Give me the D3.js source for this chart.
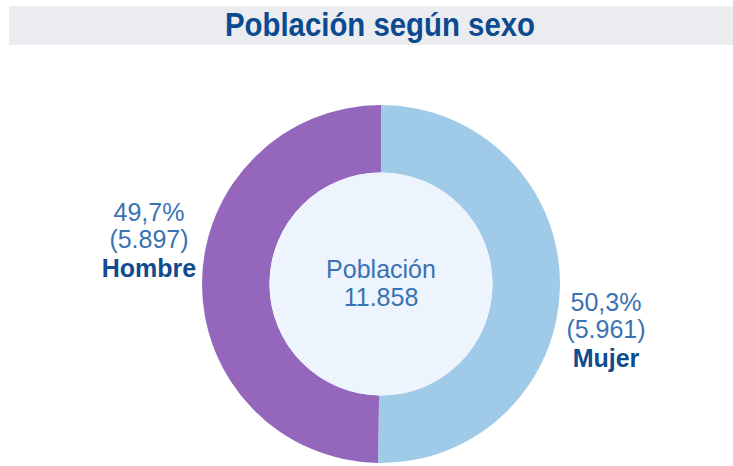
<!DOCTYPE html>
<html lang="es">
<head>
  <meta charset="utf-8">
  <title>Población según sexo</title>
  <script src="https://d3js.org/d3.v7.min.js"></script>
  <style>
    body { margin: 0; background: #fff; }
    svg { display: block; font-family: "Liberation Sans", Arial, sans-serif; }
  </style>
</head>
<body>
<script>
  var sexos = ["Mujer", "Hombre"];
  var poblacion = [5961, 5897];
  var porcentajes = ["50,3%", "49,7%"];
  var cifras = ["(5.961)", "(5.897)"];
  var total = "11.858";

  var width = 733, height = 466;
  var cx = 381, cy = 284;
  var rOuter = 179, rInner = 111.5;

  var svg = d3.select("body").append("svg")
      .attr("width", width)
      .attr("height", height);

  // barra del título
  svg.append("rect")
      .attr("x", 9).attr("y", 6)
      .attr("width", width - 9).attr("height", 39)
      .attr("fill", "#ebecef");

  svg.append("text")
      .attr("x", 380).attr("y", 36)
      .attr("text-anchor", "middle")
      .attr("font-size", 33)
      .attr("font-weight", "bold")
      .attr("fill", "#0b4a8f")
      .attr("textLength", 310)
      .attr("lengthAdjust", "spacingAndGlyphs")
      .text("Población según sexo");

  var color = d3.scaleOrdinal()
      .domain(sexos)
      .range(["#a0cbe8", "#9467bd"]);

  var pie = d3.pie().sort(null).value(function(d, i) { return poblacion[i]; });
  var arc = d3.arc().innerRadius(rInner).outerRadius(rOuter);

  var g = svg.append("g").attr("transform", "translate(" + cx + "," + cy + ")");

  g.selectAll("path")
    .data(pie(sexos))
    .enter().append("path")
      .attr("d", arc)
      .attr("fill", function(d) { return color(d.data); });

  g.append("circle")
      .attr("r", rInner)
      .attr("fill", "#edf4fd");

  // texto central
  g.append("text")
      .attr("text-anchor", "middle")
      .attr("y", -6)
      .attr("font-size", 25)
      .attr("fill", "#3a72b3")
      .text("Población");
  g.append("text")
      .attr("text-anchor", "middle")
      .attr("y", 22)
      .attr("font-size", 25)
      .attr("fill", "#3a72b3")
      .text(total);

  // etiquetas
  var labelPos = [[606, 311], [149, 221]];
  sexos.forEach(function(s, i) {
    var x = labelPos[i][0], y = labelPos[i][1];
    svg.append("text").attr("x", x).attr("y", y)
        .attr("text-anchor", "middle").attr("font-size", 25)
        .attr("fill", "#3a72b3").text(porcentajes[i]);
    svg.append("text").attr("x", x).attr("y", y + 27)
        .attr("text-anchor", "middle").attr("font-size", 25)
        .attr("fill", "#3a72b3").text(cifras[i]);
    svg.append("text").attr("x", x).attr("y", y + 56)
        .attr("text-anchor", "middle").attr("font-size", 25)
        .attr("font-weight", "bold")
        .attr("fill", "#0f4b8d").text(s);
  });
</script>
</body>
</html>
